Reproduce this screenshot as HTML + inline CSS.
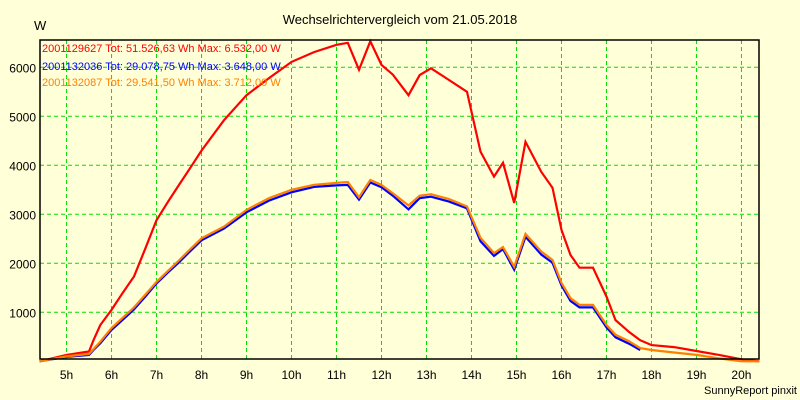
<!DOCTYPE html>
<html><head><meta charset="utf-8"><style>
html,body{margin:0;padding:0;background:#ffffd8;}
svg{display:block;font-family:"Liberation Sans",sans-serif;}
</style></head><body>
<svg id="chart" width="800" height="400" xmlns="http://www.w3.org/2000/svg">
<rect x="0" y="0" width="800" height="400" fill="#ffffd8"/>
<text x="400" y="24" font-size="13" text-anchor="middle" fill="#000">Wechselrichtervergleich vom 21.05.2018</text>
<text x="34" y="30" font-size="13" fill="#000">W</text>
<text x="797" y="394" font-size="11" text-anchor="end" fill="#000">SunnyReport pinxit</text>
<g id="grid"></g>
<g id="axes"></g>
<g id="series"></g>
<rect x="40" y="40" width="719" height="319" fill="none" stroke="#000" stroke-width="1.5"/>
<g font-size="11">
<text x="42" y="52" fill="#ff0000">2001129627 Tot: 51.526,63 Wh Max: 6.532,00 W</text>
<text x="42" y="70" fill="#0000ff">2001132036 Tot: 29.078,75 Wh Max: 3.648,00 W</text>
<text x="42" y="86" fill="#ff8000">2001132087 Tot: 29.541,50 Wh Max: 3.712,00 W</text>
</g>
</svg>
<script>
const yTicks = [1000, 2000, 3000, 4000, 5000, 6000];
const xTicks = [5,6,7,8,9,10,11,12,13,14,15,16,17,18,19,20];
const times = [4.4,5,5.5,5.6,5.75,6,6.25,6.5,6.75,7,7.25,7.5,7.75,8,8.5,9,9.5,10,10.5,11,11.25,11.5,11.75,12,12.25,12.6,12.85,13.1,13.5,13.9,14.2,14.5,14.7,14.95,15.2,15.55,15.8,16.0,16.2,16.4,16.7,17.0,17.2,17.5,17.75,18,18.5,19,19.5,20,20.4];
const redVals = [0,130,200,430,740,1050,1400,1730,2300,2880,3250,3600,3950,4300,4920,5430,5780,6110,6310,6460,6500,5950,6530,6050,5850,5430,5840,5980,5740,5500,4280,3770,4050,3230,4480,3870,3540,2680,2170,1910,1910,1320,840,600,430,330,290,210,130,40,0];
const orangeVals = [0,100,150,250,400,680,890,1100,1360,1620,1840,2060,2290,2510,2750,3090,3330,3500,3600,3640,3660,3350,3700,3600,3430,3180,3380,3410,3310,3160,2520,2210,2330,1930,2600,2240,2070,1600,1290,1150,1150,740,540,410,270,230,180,130,60,0,0];
const blueVals = [0,90,130,230,370,640,850,1060,1320,1590,1810,2020,2250,2470,2710,3040,3280,3450,3560,3590,3600,3300,3648,3550,3380,3100,3330,3360,3260,3120,2450,2150,2290,1870,2540,2180,2010,1550,1230,1100,1100,690,490,360,230];
const xMin = 4.41, xMax = 20.39, left = 40, right = 759;
function xs(t){ return left + (t - xMin) / (xMax - xMin) * (right - left); }
function ys(v){ return 361.3 - v * 0.049; }
const NS = "http://www.w3.org/2000/svg";
const grid = document.getElementById('grid'), axes = document.getElementById('axes'), series = document.getElementById('series');
yTicks.forEach(v => {
  const l = document.createElementNS(NS,'line');
  l.setAttribute('x1',left); l.setAttribute('x2',right); l.setAttribute('y1',ys(v)); l.setAttribute('y2',ys(v));
  l.setAttribute('stroke','#00e000'); l.setAttribute('stroke-dasharray','4,3');
  
  
  grid.appendChild(l);
  const t = document.createElementNS(NS,'text');
  t.setAttribute('x',36); t.setAttribute('y',ys(v)+5); t.setAttribute('text-anchor','end'); t.setAttribute('font-size','12');
  t.textContent = v;
  
  
  axes.appendChild(t);
});
xTicks.forEach(h => {
  const l = document.createElementNS(NS,'line');
  l.setAttribute('x1',xs(h)); l.setAttribute('x2',xs(h)); l.setAttribute('y1',40); l.setAttribute('y2',359);
  l.setAttribute('stroke','#00e000'); l.setAttribute('stroke-dasharray','4,3');
  
  
  grid.appendChild(l);
  const t = document.createElementNS(NS,'text');
  t.setAttribute('x',xs(h)); t.setAttribute('y',379); t.setAttribute('text-anchor','middle'); t.setAttribute('font-size','12');
  t.textContent = h + 'h';
  
  
  axes.appendChild(t);
});
function drawLine(vals, color, name){
  const p = document.createElementNS(NS,'polyline');
  p.setAttribute('points', vals.map((v,i)=> xs(times[i]).toFixed(1)+','+ys(v).toFixed(1)).join(' '));
  p.setAttribute('fill','none'); p.setAttribute('stroke',color); p.setAttribute('stroke-width','2.2');
  
  
  series.appendChild(p);
}
drawLine(redVals,'#ff0000','series-2001129627');
drawLine(blueVals,'#0000ff','series-2001132036');
drawLine(orangeVals,'#ff8000','series-2001132087');
</script>
</body></html>
